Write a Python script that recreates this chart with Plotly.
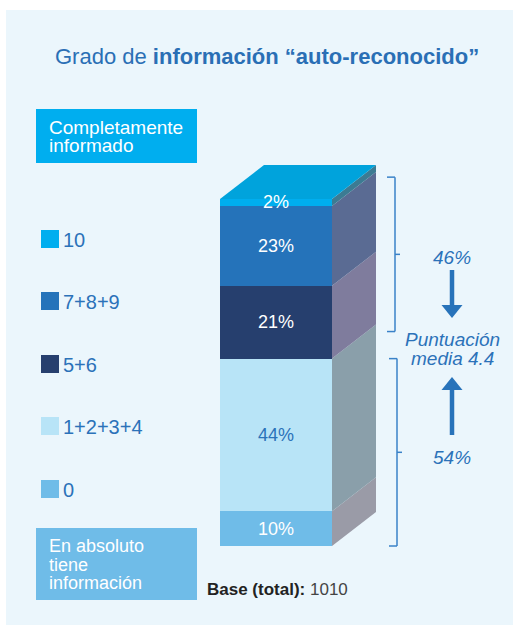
import plotly.graph_objects as go

# data, bottom segment first
categories = ["0", "1+2+3+4", "5+6", "7+8+9", "10"]
shares = [10, 44, 21, 23, 2]
front_colors = ["#6FBCE8", "#B8E4F7", "#263F6E", "#2573BA", "#00AEEF"]
side_colors = ["#9A9BA7", "#8A9FAA", "#7F7C9D", "#5A6B93", "#3C7B93"]
label_colors = ["white", "#2B72B9", "white", "white", "white"]
group_labels = ["54%", "46%"]
group_members = [["0", "1+2+3+4"], ["5+6", "7+8+9", "10"]]
mean_score = 4.4
base_total = 1010

W, H = 513, 625
BLUE = "#2B72B9"
FONT = "Liberation Sans, Arial, sans-serif"

# pixel geometry of the bar
Y0_PX, Y100_PX = 546, 199
BAR_CX, BAR_W = 276, 112
DEPTH_X, DEPTH_Y = 44, 34
ppu = (Y0_PX - Y100_PX) / 100
dx = DEPTH_X / BAR_W
dy = DEPTH_Y / ppu


def xp(px):
    return px / W


def yp(py):
    return 1 - py / H


def label(x, y, text, size, color, xanchor="center", **kw):
    return dict(x=xp(x), y=yp(y), xref="paper", yref="paper", text=text, showarrow=False,
                xanchor=xanchor, yanchor="middle", font=dict(family=FONT, size=size, color=color), **kw)


fig = go.Figure()
for cat, val, col in zip(categories, shares, front_colors):
    fig.add_trace(go.Bar(
        x=[0], y=[val], name=cat, width=1, marker=dict(color=col, line=dict(width=0)),
        showlegend=False, hoverinfo="skip",
    ))

shapes = [dict(type="rect", xref="paper", yref="paper", x0=xp(6), x1=1, y0=0, y1=yp(10),
               fillcolor="#EBF6FC", line=dict(width=0), layer="below")]
annotations = []

# side faces and labels from cumulative values
cum = 0
bounds = {}
for cat, val, side, lc in zip(categories, shares, side_colors, label_colors):
    y0, y1 = cum, cum + val
    bounds[cat] = (y0, y1)
    shapes.append(dict(
        type="path", xref="x", yref="y", line=dict(width=0), fillcolor=side,
        path=f"M0.5,{y0} L{0.5 + dx},{y0 + dy} L{0.5 + dx},{y1 + dy} L0.5,{y1} Z",
    ))
    annotations.append(dict(
        x=0, y=(y0 + y1) / 2, xref="x", yref="y", text=f"{val}%", showarrow=False,
        xanchor="center", yanchor="middle",
        font=dict(family=FONT, size=18, color=lc),
    ))
    cum = y1
shapes.append(dict(
    type="path", xref="x", yref="y", line=dict(width=0), fillcolor="#00A3DC",
    path=f"M-0.5,{cum} L{-0.5 + dx},{cum + dy} L{0.5 + dx},{cum + dy} L0.5,{cum} Z",
))

# brackets
bracket_pad = [(0, 0), (7.8, 6.3)]
bracket_x = [(389, 397), (387, 395)]
for members, (plo, phi), (bx0, bx1) in zip(group_members, bracket_pad, bracket_x):
    lo = bounds[members[0]][0] + plo
    hi = bounds[members[-1]][1] + phi
    mid = (lo + hi) / 2
    line = dict(color="#3A82C8", width=1.5)
    shapes += [
        dict(type="line", xref="paper", yref="y", x0=xp(bx1), x1=xp(bx1), y0=lo, y1=hi, line=line),
        dict(type="line", xref="paper", yref="y", x0=xp(bx0), x1=xp(bx1), y0=lo, y1=lo, line=line),
        dict(type="line", xref="paper", yref="y", x0=xp(bx0), x1=xp(bx1), y0=hi, y1=hi, line=line),
        dict(type="line", xref="paper", yref="y", x0=xp(bx1), x1=xp(bx1 + 5), y0=mid, y1=mid, line=line),
    ]

# group totals, arrows and mean score
ax = 452
for txt, ty in zip(group_labels, [457, 257]):
    annotations.append(label(ax, ty, f"<i>{txt}</i>", 19, BLUE))
for txt, ty in zip(["Puntuación", f"media {mean_score}"], [339, 358]):
    annotations.append(label(ax, ty, f"<i>{txt}</i>", 19, BLUE))
arrow_line = dict(color="#2873BA", width=4.5)
shapes += [
    dict(type="line", xref="paper", yref="paper", x0=xp(ax), x1=xp(ax), y0=yp(270), y1=yp(307), line=arrow_line),
    dict(type="path", xref="paper", yref="paper", fillcolor="#2873BA", line=dict(width=0),
         path=f"M{xp(ax - 10.5)},{yp(305)} L{xp(ax + 10.5)},{yp(305)} L{xp(ax)},{yp(318)} Z"),
    dict(type="line", xref="paper", yref="paper", x0=xp(ax), x1=xp(ax), y0=yp(388), y1=yp(435), line=arrow_line),
    dict(type="path", xref="paper", yref="paper", fillcolor="#2873BA", line=dict(width=0),
         path=f"M{xp(ax - 10.5)},{yp(390)} L{xp(ax + 10.5)},{yp(390)} L{xp(ax)},{yp(377)} Z"),
]

# legend
legend_top = [480, 417, 355, 292, 230]
for cat, col, top in zip(categories, front_colors, legend_top):
    shapes.append(dict(type="rect", xref="paper", yref="paper", x0=xp(41), x1=xp(59),
                       y0=yp(top + 18), y1=yp(top), fillcolor=col, line=dict(width=0)))
    annotations.append(label(61, top + 10, cat, 20, BLUE, xanchor="left"))

# end boxes
boxes = [(109, 163, "#00AEEF", ["Completamente", "informado"], 127, 19),
         (528, 600, "#6FBCE8", ["En absoluto", "tiene", "información"], 546, 18)]
for top, bottom, col, lines, first, fsize in boxes:
    shapes.append(dict(type="rect", xref="paper", yref="paper", x0=xp(36), x1=xp(197),
                       y0=yp(bottom), y1=yp(top), fillcolor=col, line=dict(width=0)))
    for i, ln in enumerate(lines):
        annotations.append(label(47, first + 18.5 * i, ln, fsize, "white", xanchor="left"))

# title and base
annotations.append(label(267, 57, "Grado de <b>información “auto-reconocido”</b>", 22, "#2A6FB5"))
annotations.append(label(205, 589, f"<b>Base (total):</b> <span style='color:#444'>{base_total}</span>",
                         17, "#222", xanchor="left"))

fig.update_layout(
    width=W, height=H, margin=dict(l=0, r=0, t=0, b=0),
    paper_bgcolor="white", plot_bgcolor="rgba(0,0,0,0)",
    barmode="stack", bargap=0,
    xaxis=dict(range=[-BAR_CX / BAR_W, (W - BAR_CX) / BAR_W], visible=False, fixedrange=True),
    yaxis=dict(range=[-(H - Y0_PX) / ppu, Y0_PX / ppu], visible=False, fixedrange=True),
    shapes=shapes, annotations=annotations, showlegend=False,
)
fig.write_html("out.html", config={"displayModeBar": False},
               post_script="document.body.style.margin = '0';")
